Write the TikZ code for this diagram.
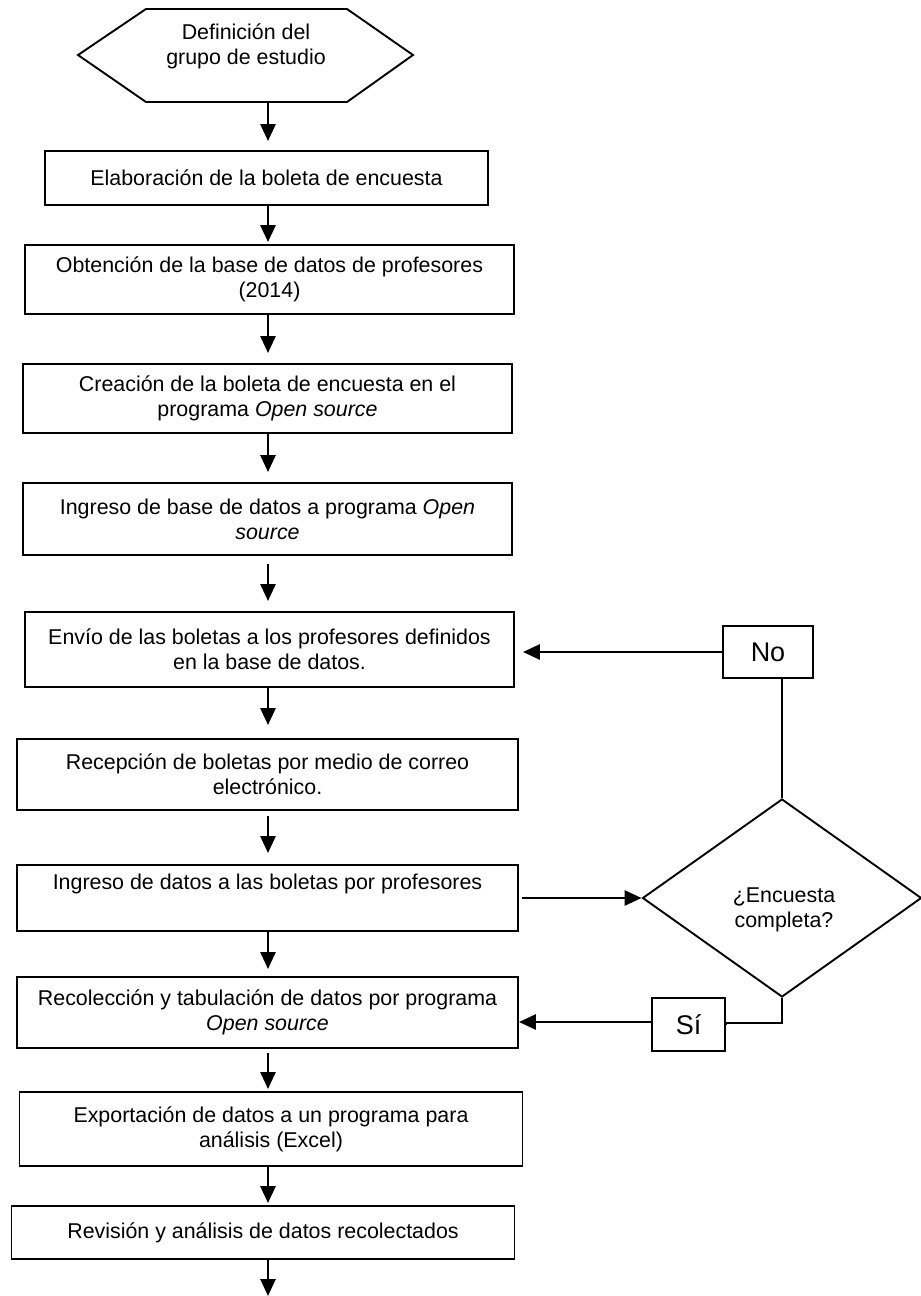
\documentclass[tikz,border=0pt]{standalone}
\usepackage{fontspec}
\setmainfont{Liberation Sans}
\usetikzlibrary{arrows.meta,shapes.geometric,calc}
\begin{document}
\begin{tikzpicture}[x=1pt,y=-1pt,
  every node/.style={font=\fontsize{21.4}{25}\selectfont},
  stepbox/.style={draw, line width=1.9pt, align=center, inner sep=0pt, anchor=center},
  lbl/.style={draw, line width=1.9pt, inner sep=0pt, font=\fontsize{27}{30}\selectfont},
  arr/.style={line width=2.8pt, -{Triangle[length=17pt,width=15pt]}},
  ln/.style={line width=2.6pt},
  thin/.style={line width=1.9pt}]
\useasboundingbox (0,0) rectangle (921,1296);
\fill[white] (0,0) rectangle (921,1296);
% start hexagon
\draw[line width=1.9pt] (78,55) -- (146,9) -- (347,9) -- (413,55) -- (347,102) -- (146,102) -- cycle;
\node[align=center] (hex) at (246,46) {Definición del\\grupo de estudio};
\coordinate (hexb) at (268,102);
\coordinate (ax) at (268,0);
% boxes
\node[stepbox, minimum width=443, minimum height=54] (b1) at (266.5,178) {Elaboración de la boleta de encuesta};
\node[stepbox, minimum width=489, minimum height=69] (b2) at (269.5,279.5) {Obtención de la base de datos de profesores\\(2014)};
\node[stepbox, minimum width=489, minimum height=69] (b3) at (267.5,398.5) {Creación de la boleta de encuesta en el\\programa \textit{Open source}};
\node[stepbox, minimum width=489, minimum height=72] (b4) at (267.5,519) {Ingreso de base de datos a programa \textit{Open}\\\textit{source}};
\node[stepbox, minimum width=489, minimum height=75] (b5) at (269.5,649.5) {Envío de las boletas a los profesores definidos\\en la base de datos.};
\node[stepbox, minimum width=501, minimum height=71] (b6) at (267.5,774.5) {Recepción de boletas por medio de correo\\electrónico.};
\node[stepbox, minimum width=501, minimum height=66] (b7) at (267.5,898) {Ingreso de datos a las boletas por profesores\\\strut};
\node[stepbox, minimum width=501, minimum height=71] (b8) at (267.5,1012.5) {Recolección y tabulación de datos por programa\\\textit{Open source}};
\node[stepbox, minimum width=503, minimum height=74] (b9) at (271,1129) {Exportación de datos a un programa para\\análisis (Excel)};
\node[stepbox, minimum width=503, minimum height=53] (b10) at (263,1232.5) {Revisión y análisis de datos recolectados};
\coordinate (endpt) at (268,1296);
% decision and labels
\node[draw, diamond, line width=1.9pt, inner sep=0pt, minimum width=279, minimum height=198] (dec) at (782,898) {};
\node[align=center] (dectxt) at (784,910) {¿Encuesta\\completa?};
\node[lbl, minimum width=90, minimum height=52] (no) at (768,652) {No\hspace{28pt}};
\node[lbl, minimum width=73, minimum height=53] (si) at (688.5,1024.5) {Sí};
% main flow
\draw[arr, shorten >=9pt] (hexb) -- (b1.north -| ax);
\draw[arr, shorten >=2pt] (b1.south -| ax) -- (b2.north -| ax);
\draw[arr, shorten >=10pt] (b2.south -| ax) -- (b3.north -| ax);
\draw[arr, shorten >=10pt] (b3.south -| ax) -- (b4.north -| ax);
\draw[arr, shorten <=8pt, shorten >=10pt] (b4.south -| ax) -- (b5.north -| ax);
\draw[arr, shorten >=13pt] (b5.south -| ax) -- (b6.north -| ax);
\draw[arr, shorten <=5pt, shorten >=11pt] (b6.south -| ax) -- (b7.north -| ax);
\draw[arr, shorten >=7pt] (b7.south -| ax) -- (b8.north -| ax);
\draw[arr, shorten <=4pt, shorten >=2pt] (b8.south -| ax) -- (b9.north -| ax);
\draw[arr, shorten >=2pt] (b9.south -| ax) -- (b10.north -| ax);
\draw[arr] (b10.south -| ax) -- (endpt);
% decision connectors
\draw[arr, shorten <=3pt] (b7.east) -- (dec.west);
\draw[thin] (dec.north) -- (dec.north |- no.south);
\draw[arr, shorten >=8pt] (no.west) -- (no.west -| b5.east);
\draw[ln] (dec.south) -- ++(0,25) -| (si.east);
\draw[arr] (si.west |- 0,1022) -- (b8.east |- 0,1022);
\end{tikzpicture}
\end{document}
